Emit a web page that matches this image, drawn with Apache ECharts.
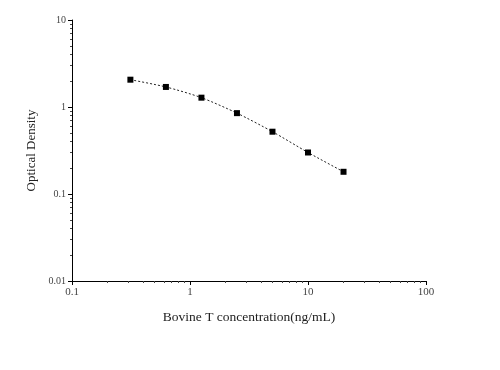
<!DOCTYPE html>
<html><head><meta charset="utf-8">
<script src="https://cdn.jsdelivr.net/npm/echarts@6/dist/echarts.min.js"></script>
<style>html,body{margin:0;padding:0;background:#fff}#c{width:500px;height:370px}</style>
</head><body><div id="c"></div>
<script>
const concentrations = [0.3125, 0.625, 1.25, 2.5, 5, 10, 20];
const opticalDensity = [2.06, 1.70, 1.28, 0.85, 0.52, 0.30, 0.18];
const xTickLabels = ['0.1', '1', '10', '100'];
const yTickLabels = ['0.01', '0.1', '1', '10'];
const xTitle = 'Bovine T concentration(ng/mL)';
const yTitle = 'Optical Density';

const pts = concentrations.map((c, i) => [c, opticalDensity[i]]);
const font = 'Liberation Serif';
const chart = echarts.init(document.getElementById('c'));
chart.setOption({
  animation: false,
  grid: { left: 72, right: 74, top: 20, bottom: 89 },
  xAxis: {
    type: 'log', min: 0.1, max: 100, logBase: 10,
    name: xTitle, nameLocation: 'middle', nameGap: 29,
    nameTextStyle: { fontFamily: font, fontSize: 13.5, color: '#222' },
    axisLine: { lineStyle: { color: '#000', width: 1 } },
    axisTick: { length: 4, lineStyle: { color: '#000' } },
    minorTick: { show: true, splitNumber: 9, length: 2, lineStyle: { color: '#444' } },
    axisLabel: { fontFamily: font, fontSize: 11, color: '#444', margin: 6,
      formatter: v => { const s = String(+v.toPrecision(3)); return xTickLabels.includes(s) ? s : ''; } },
    splitLine: { show: false }
  },
  yAxis: {
    type: 'log', min: 0.01, max: 10, logBase: 10,
    name: yTitle, nameLocation: 'middle', nameGap: 33,
    nameTextStyle: { fontFamily: font, fontSize: 13, color: '#222' },
    axisLine: { show: true, lineStyle: { color: '#000', width: 1 } },
    axisTick: { show: true, length: 4, lineStyle: { color: '#000' } },
    minorTick: { show: true, splitNumber: 9, length: 2, lineStyle: { color: '#444' } },
    axisLabel: { fontFamily: font, fontSize: 10, color: '#444', margin: 6,
      formatter: v => { const s = String(+v.toPrecision(3)); return yTickLabels.includes(s) ? s : ''; } },
    splitLine: { show: false }
  },
  series: [{
    type: 'line', data: pts, smooth: 0.25,
    symbol: 'rect', symbolSize: 6,
    itemStyle: { color: '#000' },
    lineStyle: { color: '#222', width: 1, type: [2, 2] }
  }]
});
</script></body></html>
